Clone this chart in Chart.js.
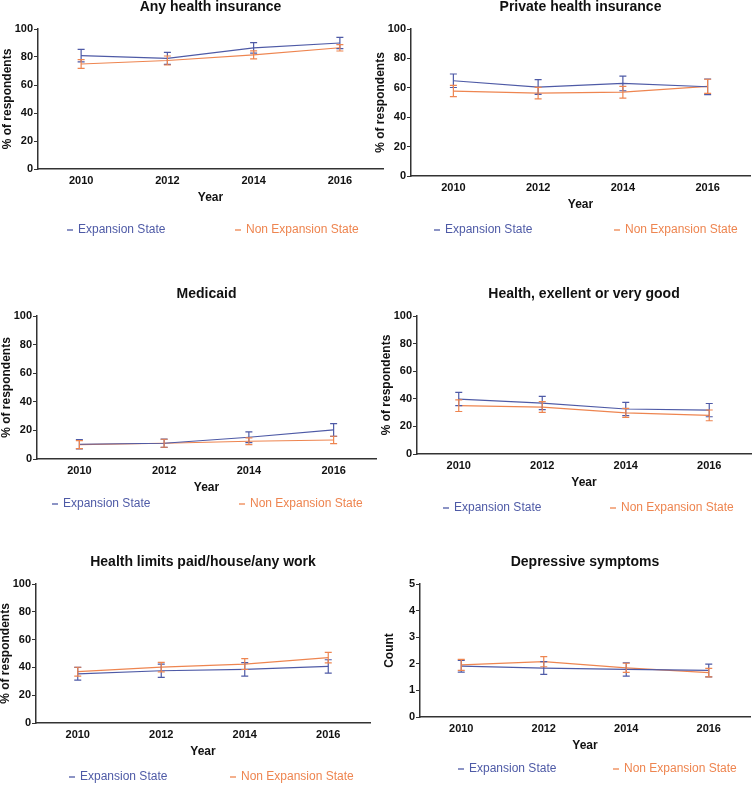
<!DOCTYPE html>
<html>
<head>
<meta charset="utf-8">
<script src="https://cdn.jsdelivr.net/npm/chart.js@4/dist/chart.umd.min.js"></script>
<style>
  html, body { margin: 0; padding: 0; background: #fff; overflow: hidden; }
  #page { position: relative; width: 752px; height: 785px; }
  #page canvas { position: absolute; }
</style>
</head>
<body>
<div id="page"></div>
<script>
// categories and series names
var years = ['2010', '2012', '2014', '2016'];
var seriesNames = ['Expansion State', 'Non Expansion State'];

// Any health insurance (%)
var anyInsExp = [81, 79, 86.5, 90];
var anyInsExpErr = [4.5, 4.3, 3.8, 4];
var anyInsNon = [75, 77.5, 81.5, 86.6];
var anyInsNonErr = [3.1, 3.2, 2.9, 2.3];

// Private health insurance (%)
var privInsExp = [64.8, 60.5, 63, 60.7];
var privInsExpErr = [4.6, 5, 5, 5.3];
var privInsNon = [57.8, 56.4, 57, 61];
var privInsNonErr = [3.8, 3.9, 4, 4.8];

// Medicaid (%)
var medicaidExp = [10.3, 11, 15.2, 20.3];
var medicaidExpErr = [3.2, 2.9, 3.8, 4.5];
var medicaidNon = [10, 11, 12.4, 13.3];
var medicaidNonErr = [2.8, 2.8, 2.4, 2.6];

// Health, excellent or very good (%)
var goodHealthExp = [39.8, 36.9, 32.6, 31.8];
var goodHealthExpErr = [4.8, 4.8, 4.8, 4.8];
var goodHealthNon = [35, 34, 29.8, 28];
var goodHealthNonErr = [4.2, 3.9, 3.2, 3.9];

// Health limits work (%)
var limitsExp = [35.4, 37.6, 38.6, 40.7];
var limitsExpErr = [4.6, 4.8, 4.9, 4.8];
var limitsNon = [36.9, 40.2, 42.4, 47];
var limitsNonErr = [3.2, 3.4, 3.9, 3.8];

// Depressive symptoms (count)
var depressExp = [1.91, 1.84, 1.79, 1.75];
var depressExpErr = [0.22, 0.24, 0.25, 0.24];
var depressNon = [1.96, 2.08, 1.85, 1.67];
var depressNonErr = [0.21, 0.19, 0.17, 0.16];

// y ticks
var pctTicks = { max: 100, step: 20 };
var countTicks = { max: 5, step: 1 };

var expColor = '#4e5aa6';
var nonColor = '#ee8550';
var font = "'Liberation Sans', Arial, sans-serif";

// plot: [left, top, right, bottom] of the plotting area on the page
// legend: [x of first item, x of second item, y below plot]
var panels = [
    { title: 'Any health insurance', yTitle: '% of respondents', ticks: pctTicks,
      exp: anyInsExp, expErr: anyInsExpErr, non: anyInsNon, nonErr: anyInsNonErr,
      plot: [38, 29, 383, 169], legend: [29, 197, 61] },
    { title: 'Private health insurance', yTitle: '% of respondents', ticks: pctTicks,
      exp: privInsExp, expErr: privInsExpErr, non: privInsNon, nonErr: privInsNonErr,
      plot: [411, 29, 750, 176], legend: [23, 203, 54] },
    { title: 'Medicaid', yTitle: '% of respondents', ticks: pctTicks,
      exp: medicaidExp, expErr: medicaidExpErr, non: medicaidNon, nonErr: medicaidNonErr,
      plot: [37, 316, 376, 459], legend: [15, 202, 45] },
    { title: 'Health, exellent or very good', yTitle: '% of respondents', ticks: pctTicks,
      exp: goodHealthExp, expErr: goodHealthExpErr, non: goodHealthNon, nonErr: goodHealthNonErr,
      plot: [417, 316, 751, 454], legend: [26, 193, 54] },
    { title: 'Health limits paid/house/any work', yTitle: '% of respondents', ticks: pctTicks,
      exp: limitsExp, expErr: limitsExpErr, non: limitsNon, nonErr: limitsNonErr,
      plot: [36, 584, 370, 723], legend: [33, 194, 54] },
    { title: 'Depressive symptoms', yTitle: 'Count', ticks: countTicks,
      exp: depressExp, expErr: depressExpErr, non: depressNon, nonErr: depressNonErr,
      plot: [420, 584, 750, 717], legend: [38, 193, 52] }
];

// draws error bars, panel title and the spread-out legend
var decorPlugin = {
    id: 'decor',
    afterDatasetsDraw: function (chart) {
        var ctx = chart.ctx, yScale = chart.scales.y;
        chart.data.datasets.forEach(function (ds, d) {
            var meta = chart.getDatasetMeta(d);
            ctx.save();
            ctx.strokeStyle = ds.borderColor;
            ctx.lineWidth = 1.2;
            meta.data.forEach(function (pt, i) {
                var v = ds.data[i], e = ds.errors[i];
                var yHi = yScale.getPixelForValue(v + e);
                var yLo = yScale.getPixelForValue(v - e);
                ctx.beginPath();
                ctx.moveTo(pt.x, yHi); ctx.lineTo(pt.x, yLo);
                ctx.moveTo(pt.x - 3.5, yHi); ctx.lineTo(pt.x + 3.5, yHi);
                ctx.moveTo(pt.x - 3.5, yLo); ctx.lineTo(pt.x + 3.5, yLo);
                ctx.stroke();
            });
            ctx.restore();
        });
    },
    afterDraw: function (chart) {
        var ctx = chart.ctx, ca = chart.chartArea;
        var p = chart.options.plugins.decor;
        ctx.save();
        ctx.fillStyle = '#111';
        ctx.font = 'bold 14px ' + font;
        ctx.textAlign = 'center';
        ctx.textBaseline = 'middle';
        ctx.fillText(p.title, (ca.left + ca.right) / 2, ca.top - 22);

        ctx.font = '12px ' + font;
        ctx.textAlign = 'left';
        var ly = ca.bottom + p.legend[2];
        chart.data.datasets.forEach(function (ds, d) {
            var lx = ca.left + p.legend[d];
            ctx.strokeStyle = ds.borderColor;
            ctx.fillStyle = ds.borderColor;
            ctx.lineWidth = 1.3;
            ctx.beginPath();
            ctx.moveTo(lx, ly); ctx.lineTo(lx + 6, ly);
            ctx.stroke();
            ctx.fillText(ds.label, lx + 11, ly);
        });
        ctx.restore();
    }
};

function makePanel(p) {
    var L = p.plot[0], T = p.plot[1], R = p.plot[2], B = p.plot[3];
    var padL = 38, padT = 30, padR = 2, axisH = 36, below = 75;
    var canvas = document.createElement('canvas');
    canvas.width = R - L + padL + padR;
    canvas.height = B - T + padT + below;
    canvas.style.left = (L - padL) + 'px';
    canvas.style.top = (T - padT) + 'px';
    document.getElementById('page').appendChild(canvas);

    new Chart(canvas.getContext('2d'), {
        type: 'line',
        data: {
            labels: years,
            datasets: [
                { label: seriesNames[0], data: p.exp, errors: p.expErr, borderColor: expColor },
                { label: seriesNames[1], data: p.non, errors: p.nonErr, borderColor: nonColor }
            ]
        },
        options: {
            responsive: false,
            animation: false,
            events: [],
            elements: {
                line: { borderWidth: 1.2, tension: 0, fill: false },
                point: { radius: 0 }
            },
            layout: { padding: { left: 0, top: padT, right: padR, bottom: below - axisH } },
            scales: {
                x: {
                    type: 'category',
                    offset: true,
                    grid: { display: false, drawTicks: false },
                    border: { display: true, color: '#333', width: 1.5 },
                    ticks: { color: '#111', padding: 5, maxRotation: 0, font: { family: font, size: 11, weight: 'bold' } },
                    title: { display: true, text: 'Year', color: '#111', padding: 0, font: { family: font, size: 12, weight: 'bold' } },
                    afterFit: function (scale) { scale.height = axisH; }
                },
                y: {
                    min: 0,
                    max: p.ticks.max,
                    grid: { drawOnChartArea: false, drawTicks: true, tickLength: 4, color: '#333', lineWidth: 1 },
                    border: { display: true, color: '#333', width: 1.5 },
                    ticks: { stepSize: p.ticks.step, color: '#111', padding: 1, font: { family: font, size: 11, weight: 'bold' } },
                    title: { display: true, text: p.yTitle, color: '#111', padding: 0, font: { family: font, size: 12, weight: 'bold' } },
                    afterFit: function (scale) { scale.width = padL; }
                }
            },
            plugins: {
                legend: { display: false },
                tooltip: { enabled: false },
                decor: { title: p.title, legend: p.legend }
            }
        },
        plugins: [decorPlugin]
    });
}

panels.forEach(makePanel);
</script>
</body>
</html>
